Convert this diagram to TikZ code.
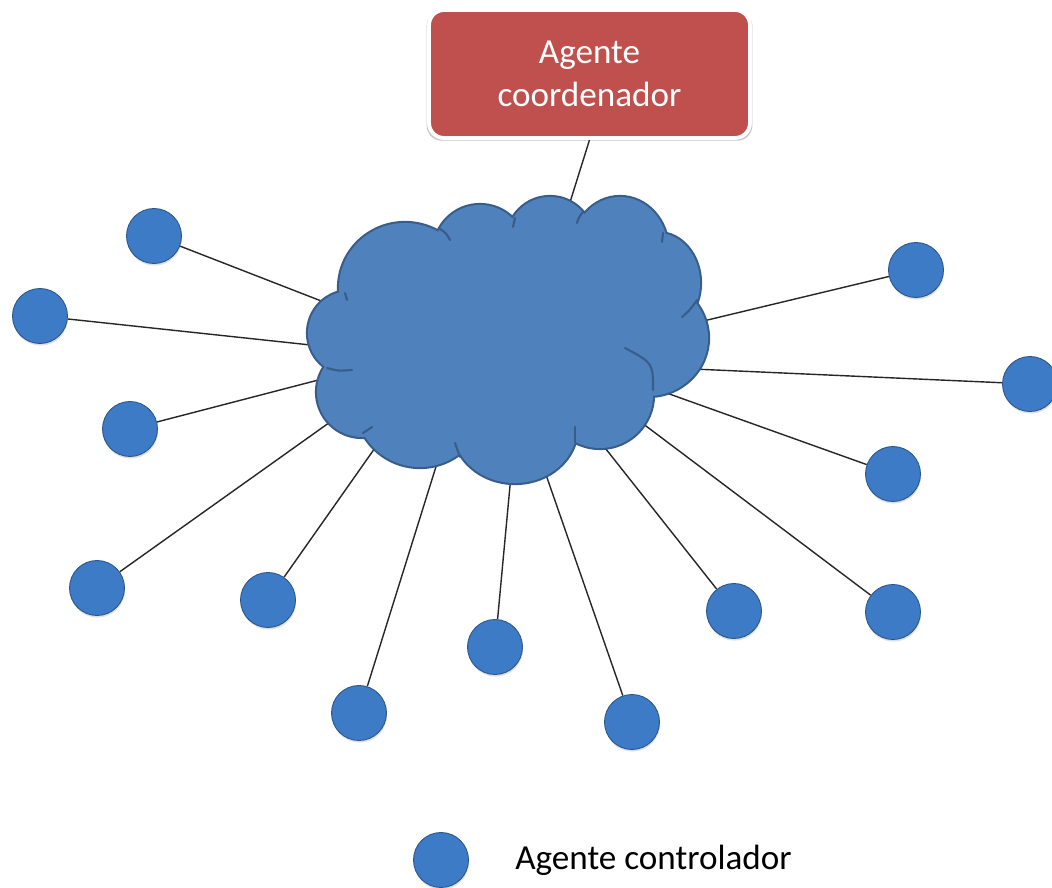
\documentclass[tikz,border=0pt]{standalone}
\usepackage{fontspec}
\setmainfont{Carlito}
\usetikzlibrary{positioning, shadows, backgrounds}
\definecolor{cloudfill}{HTML}{4F81BD}
\definecolor{cloudedge}{HTML}{385D8A}
\definecolor{ballblue}{HTML}{3D7BC6}
\definecolor{boxred}{HTML}{C0504D}

\begin{document}
\begin{tikzpicture}[
    x=0.02cm, y=-0.02cm,
    agent/.style={circle, minimum size=1.1cm, inner sep=0, fill=ballblue,
      draw=ballblue!70!black, line width=0.5pt,
      drop shadow={shadow xshift=0.3pt, shadow yshift=-1.2pt, opacity=0.25}},
    boss/.style={rectangle, rounded corners=0.3cm, fill=boxred, draw=white,
      line width=2.2pt, minimum width=6.42cm, minimum height=2.56cm,
      text=white, align=center, font=\fontsize{20}{24.4}\selectfont,
      general shadow={fill=black, opacity=0.22, shadow scale=1.015, shadow yshift=-1pt}},
    link/.style={draw=black!85, line width=0.8pt},
    rim/.style={draw=cloudedge, line width=2.4pt},
    stub/.style={draw=cloudedge, line width=1.2pt, line cap=round}
]
\useasboundingbox (0,0) rectangle (1052,888);

% coordinator on top
\node[boss] (coordenador) at (589.5,74) {Agente\\coordenador};

% controller agents, each with the point where its line meets the cloud
\foreach \r/\x/\y/\ex/\ey in {1/154/236/329/304, 2/40/316/320/346,
    3/130/429/330/377, 4/97/588/340/415, 5/268/600/382/438,
    6/359/713/439/457, 7/495/647/511/475, 8/632/722/544/469,
    9/734/611/598/439, 10/893/612/642/423, 11/893/474/661/391,
    12/1030/384/693/369, 13/916/270/695/323} {
  \node[agent] (a\r) at (\x,\y) {};
  \coordinate (e\r) at (\ex,\ey);
}

% legend
\node[agent] (legenda) at (441,860) {};
\node[right=0.92cm of legenda, inner sep=0, font=\fontsize{20}{24}\selectfont] (rotulo) {Agente controlador};

\begin{pgfonlayer}{background}
\coordinate (topo) at (566,215);
\draw[link] (coordenador.south) -- (topo);
\foreach \r in {1,...,13}
  \draw[link] (a\r) -- (e\r);

% cloud: stroke the puffs wide, then fill over them
\def\puffs{405/288/66/65, 480/251/46/46, 550/240/43/43, 620/250/48/53,
  658/283/42/50, 648/338/60/58, 600/395/53/53, 515/428/62/55,
  420/402/65/65, 362/392/45/45, 350/333/42/42}
\foreach \px/\py/\rx/\ry in \puffs
  \draw[rim] (\px,\py) ellipse [x radius=\rx, y radius=\ry];
\foreach \px/\py/\rx/\ry in \puffs
  \fill[cloudfill] (\px,\py) ellipse [x radius=\rx, y radius=\ry];
\fill[cloudfill] (510,345) ellipse [x radius=140, y radius=88];

% inner folds
\draw[stub] (440,229) .. controls (446,233) .. (450,240);
\draw[stub] (515,218) .. controls (514,222) .. (513,227);
\draw[stub] (583,212) .. controls (579,217) .. (577,223);
\draw[stub] (663,233) .. controls (663,238) .. (662,242);
\draw[stub] (697,300) .. controls (690,310) .. (682,317);
\draw[stub] (625,348) .. controls (653,363) .. (653,390);
\draw[stub] (575,442) .. controls (575,434) .. (575,427);
\draw[stub] (460,457) .. controls (457,450) .. (455,443);
\draw[stub] (363,433) .. controls (367,430) .. (372,427);
\draw[stub] (327,368) .. controls (338,371) .. (352,370);
\draw[stub] (345,293) .. controls (346,297) .. (347,300);
\end{pgfonlayer}
\end{tikzpicture}
\end{document}
